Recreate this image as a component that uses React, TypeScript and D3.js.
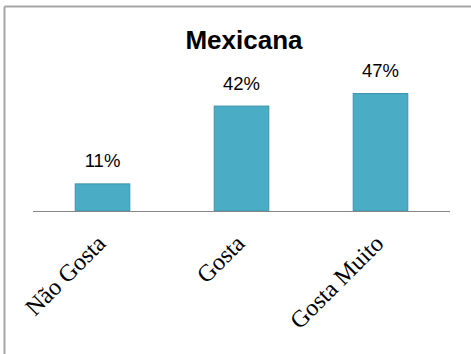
import React from "react";
import * as d3 from "d3";

const title = "Mexicana";
const categories = ["Não Gosta", "Gosta", "Gosta Muito"];
const values = [11, 42, 47];
const valueLabels = ["11%", "42%", "47%"];

const W = 471;
const H = 354;
const x0 = 33, x1 = 450;
const yBase = 211, yTop = 85.5;

export default function App() {
  const x = d3.scaleBand<string>().domain(categories).range([x0, x1]).paddingInner(0.6).paddingOuter(0.3);
  const y = d3.scaleLinear().domain([0, 50]).range([yBase, yTop]);
  const bw = x.bandwidth();
  return (
    <svg width={W} height={H} style={{ position: "absolute", left: 0, top: 0, background: "#fff" }}>
      <rect x={0} y={0} width={W} height={H} fill="#fff" />
      <line x1={4.5} y1={6.5} x2={4.5} y2={H} stroke="#a6a6a6" strokeWidth={2} />
      <line x1={4.5} y1={6.5} x2={W} y2={6.5} stroke="#a6a6a6" strokeWidth={2} />
      <text x={244} y={49} textAnchor="middle" fontFamily="Liberation Sans, Arial, sans-serif" fontWeight="bold" fontSize={26} fill="#000">
        {title}
      </text>
      {categories.map((c, i) => {
        const bx = x(c)!;
        const by = y(values[i]);
        return (
          <g key={c}>
            <rect x={bx + 0.5} y={by + 0.5} width={bw - 1} height={yBase - by - 0.5} fill="#4bacc6" stroke="#3b93ab" strokeWidth={1} />
            <text x={bx + bw / 2} y={by - 16} textAnchor="middle" fontFamily="Liberation Sans, Arial, sans-serif" fontSize={18.5} fill="#000">
              {valueLabels[i]}
            </text>
            <text
              transform={`translate(${bx + bw / 2 + 4.5},245) rotate(-45)`}
              textAnchor="end"
              fontFamily="Liberation Serif, Times New Roman, serif"
              fontSize={24}
              fill="#000"
            >
              {c}
            </text>
          </g>
        );
      })}
      <line x1={x0} y1={yBase + 0.5} x2={x1} y2={yBase + 0.5} stroke="#868686" strokeWidth={1} />
    </svg>
  );
}
